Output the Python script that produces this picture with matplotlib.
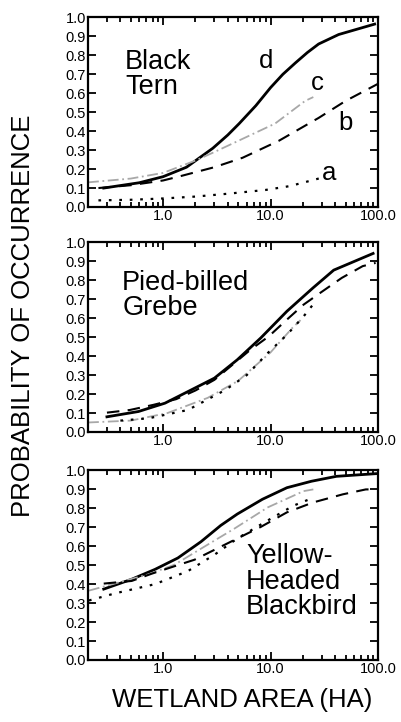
import numpy as np
import matplotlib
matplotlib.use('Agg')
import matplotlib.pyplot as plt
from matplotlib.ticker import FixedLocator, LogLocator, NullFormatter

plt.rcParams['font.family'] = ['Liberation Sans', 'DejaVu Sans']

# Black Tern
bt_d_x = [0.28, 0.6, 1.0, 1.65, 2.9, 4.0, 5.1, 7.3, 10, 13, 17, 22, 28, 43, 93]
bt_d_y = [0.10, 0.128, 0.16, 0.21, 0.31, 0.38, 0.44, 0.535, 0.63, 0.70, 0.76, 0.815, 0.86, 0.91, 0.965]
bt_c_x = [0.2, 0.5, 1.0, 2.0, 3.0, 6.0, 11, 21, 25]
bt_c_y = [0.13, 0.15, 0.18, 0.245, 0.29, 0.37, 0.44, 0.56, 0.58]
bt_b_x = [0.25, 0.5, 1.0, 1.5, 3.0, 5.5, 12, 28, 50, 100]
bt_b_y = [0.10, 0.115, 0.14, 0.165, 0.21, 0.26, 0.35, 0.47, 0.56, 0.65]
bt_a_x = [0.25, 0.5, 1.0, 2.0, 4.0, 9.0, 15, 26, 30]
bt_a_y = [0.035, 0.038, 0.045, 0.055, 0.07, 0.09, 0.11, 0.145, 0.155]

# Pied-billed Grebe
pg_solid_x = [0.30, 0.59, 1.04, 1.7, 3.0, 4.9, 8.1, 14.2, 24.8, 38.7, 90]
pg_solid_y = [0.08, 0.108, 0.152, 0.213, 0.284, 0.381, 0.496, 0.637, 0.76, 0.854, 0.942]
pg_dash_x = [0.30, 0.49, 0.81, 1.32, 2.0, 3.0, 6.5, 9.6, 14.2, 20.3, 29, 46, 72, 95]
pg_dash_y = [0.102, 0.116, 0.143, 0.173, 0.219, 0.275, 0.434, 0.504, 0.593, 0.672, 0.734, 0.813, 0.875, 0.892]
pg_gray_x = [0.2, 0.5, 1.1, 2.6, 5.0, 10, 16, 19]
pg_gray_y = [0.05, 0.06, 0.10, 0.18, 0.27, 0.42, 0.55, 0.59]
pg_dot_x = [0.4, 0.73, 1.7, 3.8, 6.0, 9.4, 14.2, 20.3, 24.8]
pg_dot_y = [0.06, 0.072, 0.116, 0.222, 0.30, 0.416, 0.513, 0.61, 0.672]

# Yellow-headed Blackbird
yb_solid_x = [0.28, 0.51, 0.84, 1.37, 2.25, 3.44, 4.9, 8.4, 14.2, 24, 41, 95]
yb_solid_y = [0.374, 0.426, 0.478, 0.538, 0.624, 0.71, 0.77, 0.848, 0.909, 0.943, 0.969, 0.983]
yb_gray_x = [0.204, 0.73, 1.28, 2.42, 4.6, 9.4, 20.3, 25]
yb_gray_y = [0.366, 0.452, 0.503, 0.598, 0.693, 0.805, 0.891, 0.90]
yb_dash_x = [0.28, 0.51, 0.78, 1.28, 1.96, 3.0, 4.9, 8.1, 14.2, 24.8, 47, 77, 95]
yb_dash_y = [0.403, 0.417, 0.455, 0.495, 0.529, 0.581, 0.641, 0.702, 0.779, 0.831, 0.874, 0.90, 0.90]
yb_dot_x = [0.204, 0.36, 0.84, 1.7, 3.0, 4.9, 9.4, 16.3, 23]
yb_dot_y = [0.314, 0.352, 0.40, 0.469, 0.555, 0.641, 0.736, 0.814, 0.848]

x_ticks = [1.0, 10.0, 100.0]
x_tick_labels = ['1.0', '10.0', '100.0']
y_ticks = [0.0, 0.1, 0.2, 0.3, 0.4, 0.5, 0.6, 0.7, 0.8, 0.9, 1.0]

fig = plt.figure(figsize=(4.01, 7.22), dpi=100)

# положения трёх панелей
left, width, height = 0.2195, 0.7232, 0.2625
bottoms = [0.7133, 0.4017, 0.0859]
axes = [fig.add_axes([left, b, width, height]) for b in bottoms]

solid = dict(color='black', lw=2.0, ls='-')
dashed = dict(color='black', lw=1.5, ls=(0, (6, 4)))
dotted = dict(color='black', lw=1.6, ls=(0, (1.2, 3.5)))
gray = dict(color='#a8a8a8', lw=1.3, ls=(0, (6, 2, 1, 2)))

ax = axes[0]
ax.plot(bt_d_x, bt_d_y, **solid)
ax.plot(bt_c_x, bt_c_y, **gray)
ax.plot(bt_b_x, bt_b_y, **dashed)
ax.plot(bt_a_x, bt_a_y, **dotted)
ax.text(9.1, 0.77, 'd', fontsize=18.5, ha='center', va='center')
ax.text(27, 0.655, 'c', fontsize=18.5, ha='center', va='center')
ax.text(50, 0.445, 'b', fontsize=18.5, ha='center', va='center')
ax.text(35, 0.178, 'a', fontsize=18.5, ha='center', va='center')
ax.text(0.128, 0.835, 'Black\nTern', transform=ax.transAxes, fontsize=19.5,
        ha='left', va='top', linespacing=0.97)

ax = axes[1]
ax.plot(pg_solid_x, pg_solid_y, **solid)
ax.plot(pg_dash_x, pg_dash_y, **dashed)
ax.plot(pg_gray_x, pg_gray_y, **gray)
ax.plot(pg_dot_x, pg_dot_y, **dotted)
ax.text(0.118, 0.855, 'Pied-billed\nGrebe', transform=ax.transAxes, fontsize=19.5,
        ha='left', va='top', linespacing=0.97)

ax = axes[2]
ax.plot(yb_solid_x, yb_solid_y, **solid)
ax.plot(yb_gray_x, yb_gray_y, **gray)
ax.plot(yb_dash_x, yb_dash_y, **dashed)
ax.plot(yb_dot_x, yb_dot_y, **dotted)
ax.text(0.545, 0.615, 'Yellow-\nHeaded\nBlackbird', transform=ax.transAxes, fontsize=19.5,
        ha='left', va='top', linespacing=0.97)

for ax in axes:
    ax.set_xscale('log')
    ax.set_xlim(0.2, 100)
    ax.set_ylim(0, 1.0)
    ax.xaxis.set_major_locator(FixedLocator(x_ticks))
    ax.set_xticklabels(x_tick_labels)
    ax.xaxis.set_minor_locator(LogLocator(base=10, subs=np.arange(2, 10)))
    ax.xaxis.set_minor_formatter(NullFormatter())
    ax.set_yticks(y_ticks)
    ax.set_yticklabels(['%.1f' % v for v in y_ticks])
    ax.tick_params(which='both', direction='in', top=True, right=True, width=1.3)
    ax.tick_params(which='major', length=6, labelsize=10.5, pad=1.5)
    ax.tick_params(which='minor', length=3.5)
    for sp in ax.spines.values():
        sp.set_linewidth(1.6)

fig.text(0.057, 0.562, 'PROBABILITY OF OCCURRENCE', rotation=90, fontsize=18.5,
         ha='center', va='center')
fig.text(0.605, 0.03, 'WETLAND AREA (HA)', fontsize=18.5, ha='center', va='center')

fig.savefig('out.png', dpi=100)
